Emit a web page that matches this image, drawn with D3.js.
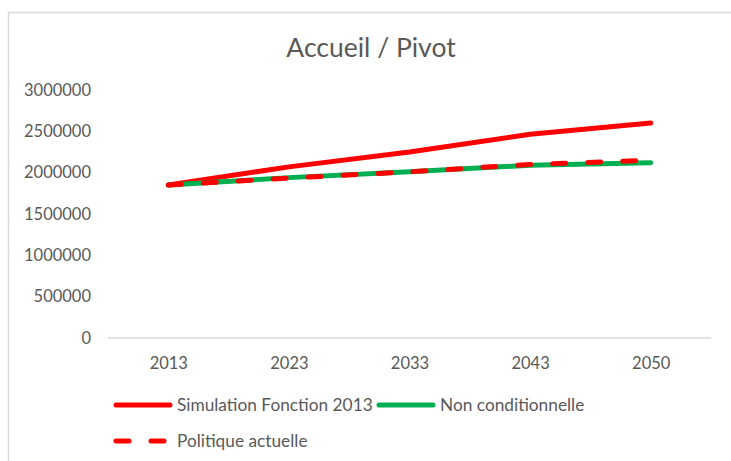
<!DOCTYPE html>
<html>
<head>
<meta charset="utf-8">
<script src="https://cdn.jsdelivr.net/npm/d3@7"></script>
<style>
  html, body { margin: 0; padding: 0; background: #fff; }
  svg { display: block; font-family: Lato, "Open Sans", sans-serif; }
</style>
</head>
<body>
<svg id="chart" width="731" height="461"></svg>
<script>
// Categories and series (values in persons)
const years = ["2013", "2023", "2033", "2043", "2050"];
const simulationFonction2013 = [1850000, 2070000, 2250000, 2465000, 2600000];
const nonConditionnelle = [1850000, 1940000, 2010000, 2090000, 2120000];
const politiqueActuelle = [1850000, 1935000, 2010000, 2100000, 2150000];
const yTicks = [0, 500000, 1000000, 1500000, 2000000, 2500000, 3000000];

const series = [
  { name: "Simulation Fonction 2013", values: simulationFonction2013, color: "#ff0000", dash: null },
  { name: "Non conditionnelle", values: nonConditionnelle, color: "#00b050", dash: null },
  { name: "Politique actuelle", values: politiqueActuelle, color: "#ff0000", dash: "13,22" }
];

const svg = d3.select("#chart");
const textColor = "#595959";

// Chart area frame (left and top edges visible)
svg.append("rect")
  .attr("x", 8.5).attr("y", 12.5)
  .attr("width", 760).attr("height", 500)
  .attr("fill", "#fff")
  .attr("stroke", "#d9d9d9").attr("stroke-width", 1.5);

// Title
svg.append("text")
  .attr("x", 371).attr("y", 57)
  .attr("text-anchor", "middle")
  .attr("fill", textColor)
  .attr("font-size", 26.5)
  .text("Accueil / Pivot");

const x = d3.scalePoint().domain(years).range([108, 711]).padding(0.5);
const y = d3.scaleLinear().domain([0, 3000000]).range([338, 90]);

// Y axis labels (no axis line, no gridlines)
const yAxis = d3.axisLeft(y).tickValues(yTicks).tickSize(0).tickPadding(0)
  .tickFormat(d3.format("d"));
const gy = svg.append("g").attr("transform", "translate(91,0)").call(yAxis);
gy.select(".domain").remove();
gy.selectAll("text").attr("fill", textColor).attr("font-size", 16.5)
  .attr("font-family", "Lato, sans-serif");

// X axis baseline and labels
const xAxis = d3.axisBottom(x).tickSize(0).tickPadding(19);
const gx = svg.append("g").attr("transform", `translate(0,${y(0)})`).call(xAxis);
gx.select(".domain").attr("d", "M108,0H711").attr("stroke", "#d9d9d9").attr("stroke-width", 1.5);
gx.selectAll("text").attr("fill", textColor).attr("font-size", 16.5)
  .attr("font-family", "Lato, sans-serif");

// Lines
const line = d3.line().x((d, i) => x(years[i])).y(d => y(d));
series.forEach(s => {
  svg.append("path")
    .datum(s.values)
    .attr("d", line)
    .attr("fill", "none")
    .attr("stroke", s.color)
    .attr("stroke-width", 5)
    .attr("stroke-linecap", "round")
    .attr("stroke-linejoin", "round")
    .attr("stroke-dasharray", s.dash);
});

// Legend
const legendItems = [
  { s: series[0], x: 116, y: 405 },
  { s: series[1], x: 379, y: 405 },
  { s: series[2], x: 116, y: 441 }
];
legendItems.forEach(it => {
  const g = svg.append("g").attr("transform", `translate(${it.x},${it.y})`);
  g.append("line")
    .attr("x1", 0).attr("x2", 54).attr("y1", 0).attr("y2", 0)
    .attr("stroke", it.s.color).attr("stroke-width", 5)
    .attr("stroke-linecap", "round")
    .attr("stroke-dasharray", it.s.dash ? "13,22" : null);
  g.append("text")
    .attr("x", 61).attr("y", 6)
    .attr("fill", textColor).attr("font-size", 17.3)
    .text(it.s.name);
});
</script>
</body>
</html>
